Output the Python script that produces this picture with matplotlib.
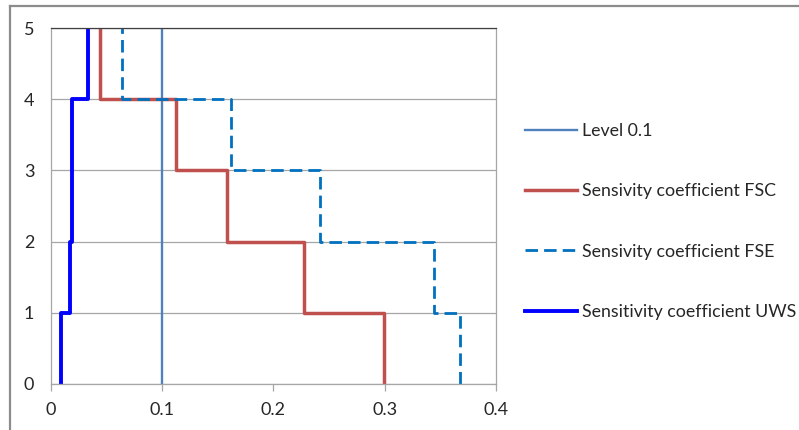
import numpy as np
import matplotlib
matplotlib.use("Agg")
import matplotlib.pyplot as plt
from matplotlib.lines import Line2D

plt.rcParams['font.family'] = ['Lato', 'DejaVu Sans']

# Boundaries of the levels (y axis) and the coefficient in each level band
levels = [0, 1, 2, 3, 4, 5]
level_threshold = 0.1
fsc = [0.299, 0.227, 0.1586, 0.1123, 0.0438]
fse = [0.368, 0.3447, 0.2414, 0.162, 0.0634]
uws = [0.009, 0.0175, 0.0192, 0.0192, 0.0334]

labels = ["Level 0.1", "Sensivity coefficient FSC",
          "Sensivity coefficient FSE", "Sensitivity coefficient UWS"]
x_ticks = [0, 0.1, 0.2, 0.3, 0.4]
y_ticks = [0, 1, 2, 3, 4, 5]


def step_profile(values):
    """Turn per-band values into a vertical staircase path."""
    xs = np.repeat(values, 2)
    ys = np.repeat(levels, 2)[1:-1]
    return xs, ys


fig = plt.figure(figsize=(7.99, 4.30), dpi=100)
ax = fig.add_axes([0.0638, 0.1077, 0.557, 0.8265])

ax.set_xlim(0, 0.4)
ax.set_ylim(0, 5)
ax.set_xticks(x_ticks)
ax.set_xticklabels(["0", "0.1", "0.2", "0.3", "0.4"])
ax.set_yticks(y_ticks)
ax.yaxis.grid(True, color='#a6a6a6', linewidth=0.9)
ax.set_axisbelow(True)

for side in ['left', 'bottom', 'right']:
    ax.spines[side].set_color('#a6a6a6')
    ax.spines[side].set_linewidth(0.9)
ax.spines['top'].set_color('#404040')
ax.spines['top'].set_linewidth(0.9)

ax.tick_params(axis='x', length=5, width=0.9, color='#a6a6a6', pad=8,
               labelsize=13, labelcolor='#262626')
ax.tick_params(axis='y', length=0, pad=12, labelsize=13, labelcolor='#262626')

lvl_line, = ax.plot([level_threshold, level_threshold], [levels[0], levels[-1]],
                    color='#4f81bd', linewidth=1.7)

xs, ys = step_profile(fsc)
fsc_line, = ax.plot(xs, ys, color='#c0504d', linewidth=2.5)

xs, ys = step_profile(fse)
fse_line, = ax.plot(xs, ys, color='#0070c0', linewidth=2.0, dashes=(4.5, 2.2))

xs, ys = step_profile(uws)
uws_line, = ax.plot(xs, ys, color='#0000ff', linewidth=2.8)

fig.legend([lvl_line, fsc_line, fse_line, uws_line], labels,
           loc='upper left', bbox_to_anchor=(0.657, 0.714), frameon=False,
           fontsize=12.75, handlelength=2.94, handletextpad=0.28,
           labelspacing=2.5, borderpad=0, borderaxespad=0,
           labelcolor='#262626')

# outer chart frame (top and left edges)
fig.add_artist(Line2D([0.0125, 1.0], [0.986, 0.986], color='#8c8c8c',
                      linewidth=1.6, transform=fig.transFigure))
fig.add_artist(Line2D([0.0125, 0.0125], [0.0, 0.986], color='#8c8c8c',
                      linewidth=1.6, transform=fig.transFigure))

fig.savefig("out.png", dpi=100)
